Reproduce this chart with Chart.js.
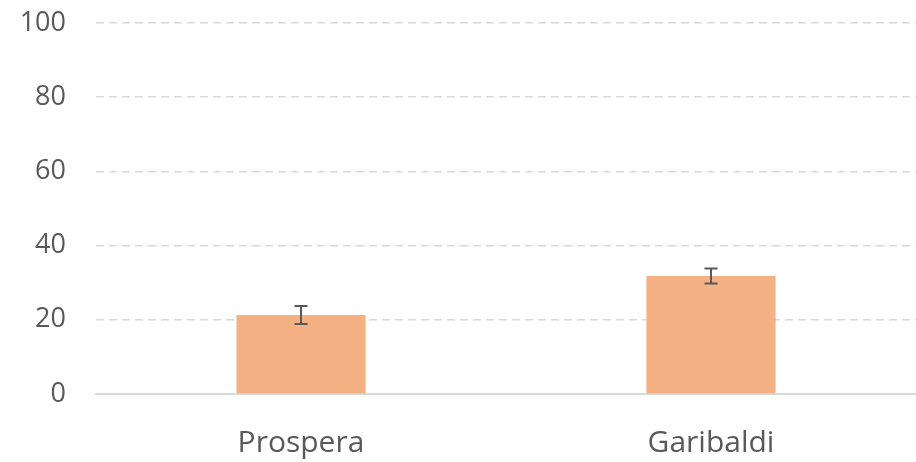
<!DOCTYPE html>
<html>
<head>
<meta charset="utf-8">
<script src="https://cdn.jsdelivr.net/npm/chart.js@4"></script>
<style>
  html, body { margin: 0; padding: 0; background: #fff; }
  #wrap { width: 916px; height: 462px; }
</style>
</head>
<body>
<div id="wrap"><canvas id="c" width="916" height="462"></canvas></div>
<script>
const categories = ['Prospera', 'Garibaldi'];
const means = [21.3, 31.8];
const errors = [2.4, 2.0];
const yTicks = [0, 20, 40, 60, 80, 100];

// draws symmetric error bars using the chart's own scales
const errorBars = {
    id: 'errorBars',
    afterDatasetsDraw(chart, args, options) {
        const { ctx, scales: { y } } = chart;
        const meta = chart.getDatasetMeta(0);
        ctx.save();
        ctx.strokeStyle = options.color;
        ctx.lineWidth = options.width;
        meta.data.forEach((bar, i) => {
            const top = y.getPixelForValue(means[i] + errors[i]);
            const bottom = y.getPixelForValue(means[i] - errors[i]);
            const x = bar.x;
            ctx.beginPath();
            ctx.moveTo(x, top);
            ctx.lineTo(x, bottom);
            ctx.moveTo(x - options.cap, top);
            ctx.lineTo(x + options.cap, top);
            ctx.moveTo(x - options.cap, bottom);
            ctx.lineTo(x + options.cap, bottom);
            ctx.stroke();
        });
        ctx.restore();
    }
};

Chart.defaults.font.family = "'Open Sans', sans-serif";
Chart.defaults.color = '#595959';

new Chart(document.getElementById('c'), {
    type: 'bar',
    data: {
        labels: categories,
        datasets: [{
            data: means,
            backgroundColor: '#F4B183',
            categoryPercentage: 1,
            barPercentage: 0.315
        }]
    },
    options: {
        responsive: false,
        animation: false,
        layout: { padding: { top: 23, right: 0, left: 0, bottom: 0 } },
        scales: {
            x: {
                grid: { display: false },
                border: { display: true, color: '#d9d9d9', width: 2 },
                ticks: { font: { size: 30 }, padding: 23 },
                afterFit(scale) { scale.height = 68; scale.paddingLeft = 0; scale.paddingRight = 0; }
            },
            y: {
                min: 0,
                max: 100,
                afterBuildTicks(scale) { scale.ticks = yTicks.map(v => ({ value: v })); },
                grid: {
                    drawTicks: false,
                    color: ctx => ctx.tick && ctx.tick.value === 0 ? 'rgba(0,0,0,0)' : '#d9d9d9',
                    lineWidth: 1.5
                },
                border: { display: false, dash: [8, 5] },
                ticks: { font: { size: 27 }, padding: 30 },
                afterFit(scale) { scale.width = 96; scale.paddingTop = 0; scale.paddingBottom = 0; }
            }
        },
        plugins: {
            legend: { display: false },
            tooltip: { enabled: false },
            errorBars: { color: '#595959', width: 2, cap: 6.5 }
        }
    },
    plugins: [errorBars]
});
</script>
</body>
</html>
